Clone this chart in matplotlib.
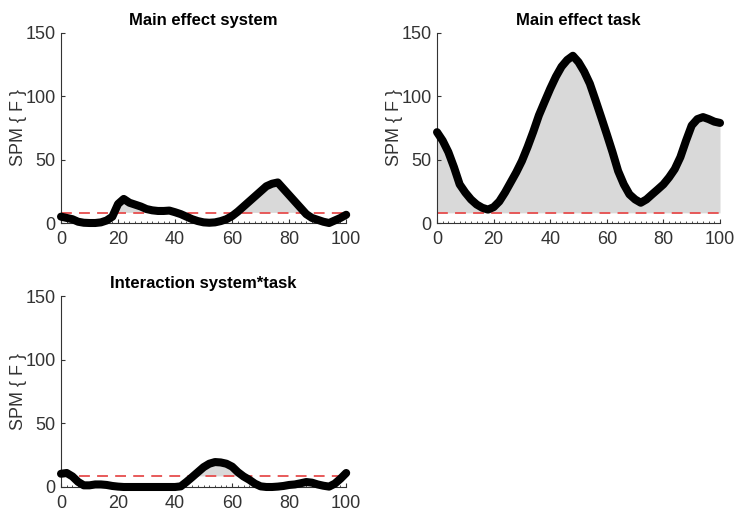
import numpy as np
import matplotlib
matplotlib.use("Agg")
from matplotlib import pyplot as plt
from matplotlib.ticker import MultipleLocator

plt.rcParams['font.family'] = ['Liberation Sans', 'DejaVu Sans']

# time axis (% of cycle), sampled every 2
t = np.arange(0, 101, 2)

# SPM{F} curves
f_system = [5, 4, 3, 1, 0.2, 0, 0, 0.5, 2, 5, 15, 19, 16, 14.5, 13, 11, 10,
            9.5, 9.5, 9.8, 8.5, 7, 5, 3, 1.5, 0.5, 0.2, 0.5, 1.5, 3, 5.5, 9,
            13, 17, 21, 25, 29, 31, 32, 27, 22, 17, 12, 7, 4, 2.5, 1, 0, 2,
            4, 6.5]
f_task = [71.7, 65, 56, 44, 30.5, 24, 18.6, 14.6, 12, 10.6, 12.5, 17, 24, 32,
          40, 49, 60, 72, 85, 95.6, 106, 115.5, 123.4, 128.7, 132, 127, 119.5,
          110, 97, 83.6, 70, 56, 41, 30.5, 22.6, 18.6, 16, 18.6, 22.6, 26.5,
          30.5, 36, 42.5, 52, 65, 77, 82, 83.6, 82, 80, 79]
f_inter = [10.4, 11, 8.3, 4, 1.3, 1.3, 2, 2, 1.6, 0.8, 0.3, 0, 0, 0, 0, 0, 0,
           0, 0, 0, 0, 0.5, 4, 7.8, 11.7, 15.6, 18.3, 19.6, 19.3, 18.3, 16,
           11.7, 8.3, 5.7, 2.6, 0.5, 0, 0, 0.3, 0.8, 1.6, 2, 2.9, 3.9, 3.4, 2,
           1, 0.3, 2.6, 6.5, 11]

# critical thresholds
thr_system = 8.0
thr_task = 8.0
thr_inter = 8.3

titles = ["Main effect system", "Main effect task", "Interaction system*task"]

fig = plt.figure(figsize=(7.35, 5.13), dpi=100)
positions = [
    [0.083, 0.5653, 0.388, 0.3704],
    [0.5946, 0.5653, 0.385, 0.3704],
    [0.083, 0.0507, 0.388, 0.372],
]
curves = [f_system, f_task, f_inter]
thresholds = [thr_system, thr_task, thr_inter]

axcol = (0.2, 0.2, 0.2)

for pos, y, thr, title in zip(positions, curves, thresholds, titles):
    ax = fig.add_axes(pos)
    y = np.array(y, dtype=float)
    ax.fill_between(t, thr, y, where=y > thr, interpolate=True,
                    color=(0.85, 0.85, 0.85), linewidth=0)
    ax.axhline(thr, color=(0.9, 0.3, 0.3), linestyle=(0, (6, 4)), linewidth=1.3)
    ax.plot(t, y, color='k', linewidth=5.8, solid_capstyle='round',
            solid_joinstyle='round', clip_on=False, zorder=5)
    ax.set_xlim(0, 100)
    ax.set_ylim(0, 150)
    ax.set_xticks([0, 20, 40, 60, 80, 100])
    ax.set_yticks([0, 50, 100, 150])
    ax.xaxis.set_minor_locator(MultipleLocator(2))
    ax.tick_params(axis='both', which='major', direction='in', length=3,
                   labelsize=13, colors=axcol)
    ax.tick_params(axis='x', which='major', pad=6)
    ax.tick_params(axis='y', which='major', pad=4)
    ax.tick_params(axis='x', which='minor', direction='in', length=1.5,
                   color=axcol)
    for s in ['top', 'right']:
        ax.spines[s].set_visible(False)
    for s in ['left', 'bottom']:
        ax.spines[s].set_color(axcol)
        ax.spines[s].set_linewidth(0.8)
    ax.set_ylabel("SPM { F }", fontsize=13, color=axcol, labelpad=-1)
    ax.set_title(title, fontsize=12, fontweight='bold', color='k', pad=6)

fig.savefig("out.png", dpi=100)
